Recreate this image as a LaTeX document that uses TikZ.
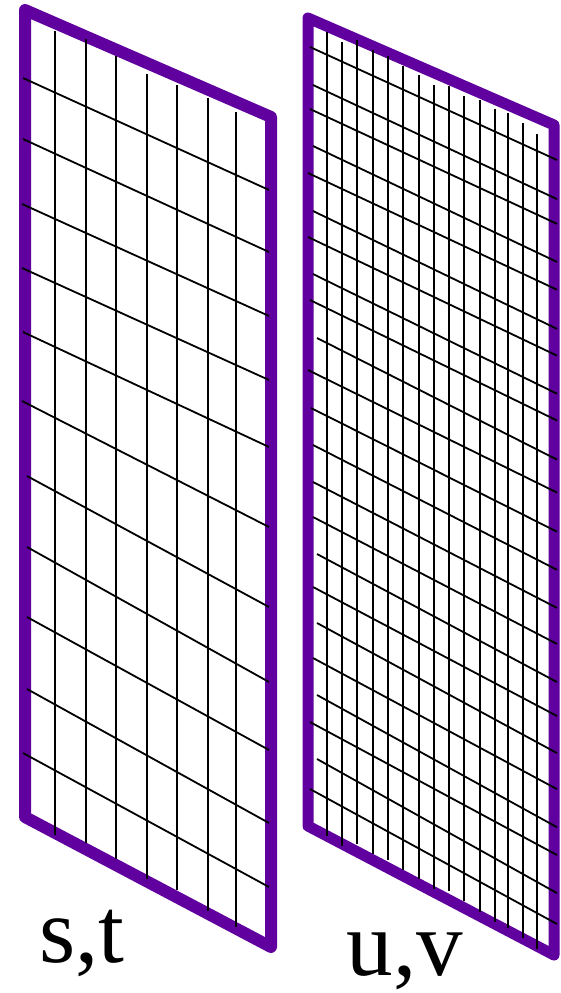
\documentclass[tikz,border=0pt]{standalone}
\usepackage{fontspec}
\setmainfont{Liberation Serif}
\definecolor{framepurple}{RGB}{96,0,158}
\begin{document}
\begin{tikzpicture}[x=1pt,y=-1pt,
  gridline/.style={line width=1.8pt,black},
  frameline/.style={draw=framepurple,line width=#1,line join=round},
  lbl/.style={font=\fontsize{93}{93}\selectfont,inner sep=0pt,anchor=base}]
\useasboundingbox (0,0) rectangle (561,993);
% frames
\draw[frameline=12pt] (25,10) -- (271,117) -- (271,947) -- (25,817) -- cycle;
\draw[frameline=11pt] (308,18) -- (554,125) -- (554,955) -- (308,826) -- cycle;
% left panel vertical lines
\foreach \x/\t/\b in {55/31/835, 86/39/843, 116/56/859, 147/74/879, 177/85/890, 208/98/911, 236/112/927}
  \draw[gridline] (\x,\t) -- (\x,\b);
% left panel slanted lines
\foreach \xl/\yl/\yr in {23/78/190, 23/139/252, 22/204/316, 22/268/380, 23/332/447, 22/401/527, 27/476/607, 27/547/682, 27/617/750, 27/689/823, 23/753/887}
  \draw[gridline] (\xl,\yl) -- (269,\yr);
% right panel vertical lines
\foreach \x/\t/\b in {327/32/836, 342/42/846, 357/40/844, 373/50/854, 388/56/860, 403/66/870, 419/75/879, 434/85/889, 449/86/891, 464/96/901, 480/100/912, 495/109/922, 508/113/928, 523/123/938, 537/134/949}
  \draw[gridline] (\x,\t) -- (\x,\b);
% right panel slanted lines
\foreach \xl/\yl in {310/47, 313/85, 310/109, 313/146, 308/173, 313/211, 308/237, 313/274, 310/300, 317/338, 308/370, 311/408, 313/445, 313/482, 313/517, 317/554, 313/587, 317/623, 313/658, 317/695, 310/722, 317/759, 310/789}{
  \pgfmathsetmacro{\yr}{\yl+113+(\yl-47)*22/742}
  \draw[gridline] (\xl,\yl) -- (557,\yr);
}
% labels
\node[lbl] (st) at (82,962) {s,t};
\node[lbl] (uv) at (405,975) {u,v};
\end{tikzpicture}
\end{document}
